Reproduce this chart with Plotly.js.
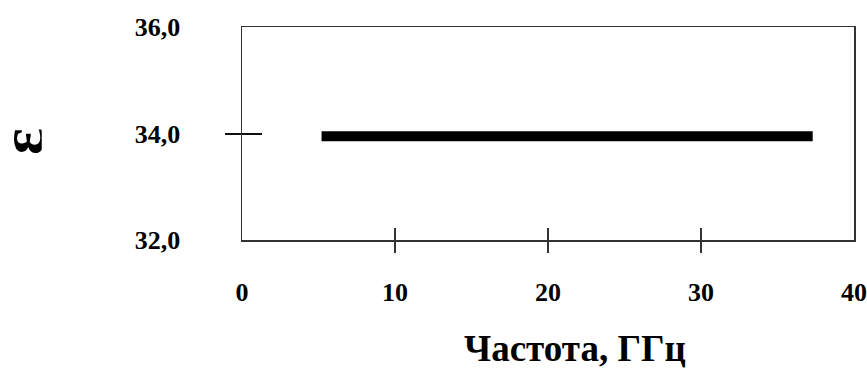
<!DOCTYPE html>
<html>
<head>
<meta charset="utf-8">
<script src="https://cdn.plot.ly/plotly-3.0.1.min.js"></script>
<style>html,body{margin:0;padding:0;background:#fff;}#chart{width:867px;height:369px;}</style>
</head>
<body>
<div id="chart"></div>
<script>
// Data
const freqGHz = [5.2, 37.3];
const epsilon = [33.95, 33.95];
const xTickVals = [0, 10, 20, 30, 40];
const xTickText = ['0', '10', '20', '30', '40'];
const xMarkVals = [10, 20, 30];
const yTickVals = [32, 34, 36];
const yTickText = ['32,0', '34,0', '36,0'];
const yMarkVals = [34];
const xTitle = 'Частота, ГГц';
const yTitle = 'ε';

const FONT = 'Liberation Serif, Times New Roman, serif';
const xr = [0, 40], yr = [32, 36];

const traces = [
  {x: freqGHz, y: epsilon, type: 'scatter', mode: 'lines',
   line: {color: '#000', width: 10}, hoverinfo: 'none', showlegend: false},
  {x: xr, y: yr, xaxis: 'x2', yaxis: 'y2', mode: 'none', showlegend: false, hoverinfo: 'none'},
  {x: xr, y: yr, xaxis: 'x3', yaxis: 'y3', mode: 'none', showlegend: false, hoverinfo: 'none'}
];

const tickFont = {family: FONT, size: 26, color: '#000', weight: 'bold'};

const layout = {
  width: 867, height: 369,
  margin: {l: 242, r: 13, t: 27, b: 129},
  paper_bgcolor: '#fff', plot_bgcolor: '#fff',
  font: {family: FONT},
  xaxis: {range: xr, tickvals: xTickVals, ticktext: xTickText, ticks: '',
    showgrid: false, zeroline: false, showline: true, mirror: true,
    linecolor: '#333', linewidth: 1.5, tickfont: tickFont, ticklabelstandoff: 28},
  yaxis: {range: yr, tickvals: yTickVals, ticktext: yTickText, ticks: '',
    showgrid: false, zeroline: false, showline: true, mirror: true,
    linecolor: '#333', linewidth: 1.5, tickfont: tickFont, ticklabelstandoff: 55},
  xaxis2: {range: xr, overlaying: 'x', anchor: 'y2', tickvals: xMarkVals, ticks: 'outside',
    ticklen: 12, tickwidth: 1.5, tickcolor: '#333', showticklabels: false,
    showgrid: false, zeroline: false, showline: false},
  yaxis2: {range: yr, overlaying: 'y', anchor: 'x2', tickvals: yMarkVals, ticks: 'outside',
    ticklen: 16, tickwidth: 2, tickcolor: '#111', showticklabels: false,
    showgrid: false, zeroline: false, showline: false},
  xaxis3: {range: xr, overlaying: 'x', anchor: 'y3', tickvals: xMarkVals, ticks: 'inside',
    ticklen: 12, tickwidth: 1.5, tickcolor: '#333', showticklabels: false,
    showgrid: false, zeroline: false, showline: false},
  yaxis3: {range: yr, overlaying: 'y', anchor: 'x3', tickvals: yMarkVals, ticks: 'inside',
    ticklen: 20, tickwidth: 2, tickcolor: '#111', showticklabels: false,
    showgrid: false, zeroline: false, showline: false},
  annotations: [
    {text: '<b>' + xTitle + '</b>', xref: 'paper', yref: 'paper', x: 0.544, y: -0.507,
     showarrow: false, xanchor: 'center', yanchor: 'middle', height: 40,
     font: {family: FONT, size: 37, color: '#000'}},
    {text: '<b>' + yTitle + '</b>', xref: 'paper', yref: 'paper', x: -0.36, y: 0.465,
     showarrow: false, xanchor: 'center', yanchor: 'middle', textangle: -90, height: 40,
     font: {family: FONT, size: 62, color: '#000'}}
  ]
};

Plotly.newPlot('chart', traces, layout, {staticPlot: true, displayModeBar: false});
</script>
</body>
</html>
